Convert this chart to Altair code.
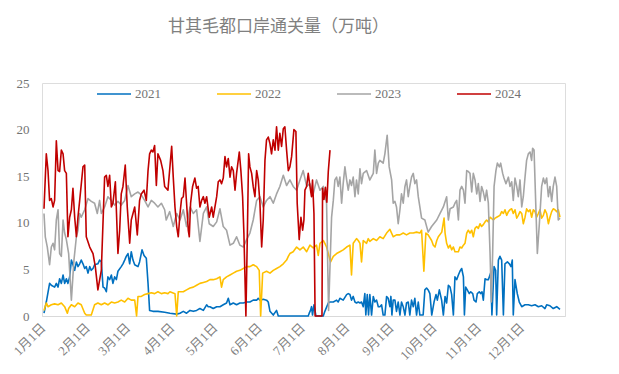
import altair as alt
import pandas as pd

years = ["2021", "2022", "2023", "2024"]
colors = ["#0070C0", "#FFC000", "#A5A5A5", "#C00000"]
widths = [1.6, 1.6, 1.6, 2.6]
month_days = [0, 31, 59, 90, 120, 151, 181, 212, 243, 273, 304, 334]
month_labels = ["1月1日", "2月1日", "3月1日", "4月1日", "5月1日", "6月1日",
                "7月1日", "8月1日", "9月1日", "10月1日", "11月1日", "12月1日"]
y_ticks = [0, 5, 10, 15, 20, 25]
title_text = "甘其毛都口岸通关量（万吨）"

# 2021 (day of year, 万吨)
d2021 = [1.4, 3, 5.3, 6.5, 8.8, 10, 11.2, 12.3, 13.5, 14.7, 15.8, 17, 18.1, 19.3, 20.5, 21.6, 22.8, 24, 25.1, 26.3,
         27.4, 28.6, 29.8, 30.9, 32.1, 33.3, 34.4, 35.6, 36.7, 39, 40.2, 41.4, 42.6, 43.7, 44.9, 46, 47.2, 48.4, 49.5,
         50.7, 51.9, 53, 55.3, 56.5, 57.7, 58.8, 60, 61.2, 62.3, 63.5, 64.7, 67, 68.1, 69.8, 71.2, 72.8, 74, 75.1,
         77.4, 80.9, 85.6, 89.3, 94, 96.3, 98.6, 100.9, 103.3, 105.6, 107.9, 110.2, 112.6, 114.9, 116, 117.2, 119.5,
         121.9, 124.2, 126.5, 128.8, 130, 131.2, 133.5, 135.8, 138.1, 140.5, 142.8, 145.1, 147.4, 149.8, 150.9, 152.1,
         154.4, 156.7, 157.9, 159.1, 161.4, 163.7, 164.9, 168.4, 175, 180, 185.8, 186.5, 187.4, 188.1, 188.8, 189.8,
         191.2, 196.3, 197.4, 199.8, 200.9, 203.3, 205.6, 206.7, 207.9, 210.2, 212.6, 213.7, 214.9, 216, 217.2,
         218.4, 219.5, 220.7, 221.9, 223, 224.2, 225.3, 226, 227, 227.9, 228.8, 230, 231.2, 232.3, 233.5, 234.7,
         235.8, 237, 238.1, 239.3, 240.5, 241.6, 242.8, 243.5, 244.2, 245.1, 246.3, 247.4, 248.6, 249.8, 250.9,
         252.1, 253.3, 254.4, 255.6, 256.7, 257.9, 259.1, 260.2, 261.4, 262.6, 263.7, 266, 267.2, 268.4, 269.5,
         270.7, 272, 273.6, 275, 275.9, 277.3, 278.9, 280.1, 281.3, 282.4, 283.6, 284.8, 285.9, 287.1, 288.2, 289.4,
         290.6, 291.7, 292.9, 294.1, 294.8, 295.7, 296.8, 298.2, 299.2, 300.6, 301.5, 302.9, 303.8, 305.2, 306.1,
         307.1, 308, 309.2, 310.3, 311.5, 313.1, 314, 315.5, 316.6, 317.3, 318.5, 319.6, 320.8, 322, 323.1, 324.8,
         326.2, 327.3, 328.2, 328.9, 330.1, 331.7, 333.1, 334.8, 337.1, 339.4, 341.7, 344.1, 346.4, 348.7, 351,
         352.2, 354.5, 356.8, 359.2, 361.5]
v2021 = [0.3, 1.5, 3.5, 3.3, 3.1, 3.5, 3.1, 4, 3.5, 4.4, 3.5, 4, 3.5, 4.2, 6, 5.5, 4.9, 5.8, 5.3, 5.6,
         6, 5.6, 5.1, 5.3, 4.6, 5.3, 4.9, 5.1, 5.5, 5.6, 6, 5.8, 3.1, 3, 2.6, 4.2, 3.9, 4.4, 3.5,
         4.2, 3.9, 4.8, 5.3, 5.6, 6, 6.4, 6.7, 5.6, 6.9, 6, 5.5, 5.3, 5.8, 7.1, 6.5, 6.2, 3.5, 0.6,
         0.5, 0.5, 0.4, 0.3, 0.2, 0.3, 0.5, 0.3, 0.6, 0.5, 0.6, 0.8, 0.6, 1.2, 1, 1, 0.8,
         1, 1, 1.2, 1.4, 1.9, 1.2, 1.4, 1.2, 1.4, 1.4, 1.5, 1.5, 1.7, 1.7, 1.9, 1.7,
         1.8, 1.7, 1.5, 0.5, 0.1, 0.6, 0, 0, 0, 0, 0, 0.3, 0.6, 1, 0.1, 1.2,
         0, 0, 0.5, 1.4, 1.5, 1.5, 1.7, 1.5, 1.9, 1.7, 2.3, 2.4, 2.3, 1.7, 2.1,
         1.5, 1.4, 1.5, 1.4, 1.5, 1, 2.4, 0.1, 2.3, 0.1, 2.3, 0.1, 2.1, 1.5, 1.7, 1,
         1, 1.2, 0.1, 0.1, 2.1, 1.9, 1, 2.1, 0.1, 1.7, 1.7, 0.5, 1.5, 0.1, 1.5,
         1, 0.1, 1.4, 1.5, 0.1, 1.7, 1, 1.9, 0.1, 1.5, 0.1, 0.1, 2.8, 3, 2.8,
         2.4, 0.1, 1.5, 2.3, 1.7, 2.8, 1.7, 0.1, 2.1, 1.4, 3.3, 3.1, 2.3, 0.1, 4.2, 3.9,
         4.4, 4.8, 5.1, 4.2, 0.1, 3.1, 2.8, 2.4, 2.6, 2.4, 1.7, 1.5, 2.4, 2.6, 2.4,
         2.6, 1.7, 4, 3.9, 3.9, 4.6, 0.1, 5.3, 4.9, 0.1, 6, 6.4, 6, 0.1, 5.6, 5.8,
         5.6, 5.3, 6, 0.1, 3.9, 2.4, 1.5, 1, 1.2, 1.2, 1.1, 1.2, 1, 1.1, 0.8,
         1.2, 1.1, 0.8, 1, 0.7]

# 2022
d2022 = [1.4, 3, 4.2, 6.5, 8.8, 11.2, 13.5, 15.8, 17.7, 18.6, 20.5, 22.8, 25.1, 27.4, 29.8, 30.9, 34.4, 36.7, 39,
         41.4, 43.7, 46, 48.4, 50.7, 53, 55.3, 57.7, 60, 62.3, 64.7, 66, 67, 69.3, 71.6, 74, 76.3, 78.6, 80.9, 83.3,
         85.6, 87.9, 89.3, 92.8, 94, 95.1, 98.6, 100.9, 103.3, 105.6, 107.9, 110.2, 112.6, 114.9, 117.2, 119.5,
         121.9, 124.2, 125.3, 126.5, 128.8, 131.2, 133.5, 135.8, 138.1, 140.5, 142.8, 145.1, 147.4, 149.8, 151.6,
         152.6, 154, 156.7, 159.1, 161.4, 163.7, 166, 168.4, 170.7, 171.9, 173, 175.3, 177.7, 180, 182.3, 184.7,
         187, 189.3, 191.6, 192.8, 194, 196.3, 197.4, 198.6, 199.8, 201.4, 203.3, 205.6, 207.9, 210.2, 212.6,
         214.9, 216, 217.2, 219.5, 220.7, 221.9, 223, 224.2, 226.5, 227.7, 228.8, 231.2, 233.5, 235.8, 238.1,
         240.5, 242.8, 245.1, 247.4, 249.8, 252.1, 254.4, 256.7, 259.1, 261.4, 263.7, 264.9, 266.5, 267.9, 269.5,
         271.9, 273.1, 274.3, 275.5, 276.6, 279, 280.6, 281.3, 282.4, 283.6, 284.8, 285.9, 287.1, 288.2, 290.6,
         291.7, 292.9, 294.1, 295.2, 296.4, 297.5, 298.7, 299.9, 301, 302.2, 303.4, 304.5, 305.7, 306.8, 308,
         309.2, 310.3, 311.5, 312.7, 315, 316.2, 317.3, 319.6, 320.8, 322, 323.1, 324.3, 325.5, 326.6, 327.8,
         328.9, 330.1, 331.3, 332.4, 333.6, 334.8, 335.9, 337.1, 338.2, 339.4, 340.6, 341.7, 342.9, 344.1, 345.2,
         346.4, 347.5, 348.7, 349.9, 351, 352.2, 353.4, 354.5, 355.7, 356.8, 358, 359.2, 360.3, 361.5]
v2022 = [0.6, 1.4, 1, 1.2, 1.3, 1.2, 1.4, 1, 0.3, 0.8, 1.2, 1, 1.4, 1.2, 0.3, 0.1, 0.1, 1.2, 1.4,
         1.2, 1.4, 1.2, 1.5, 1.4, 1.5, 1.7, 1.5, 1.9, 1.7, 1.7, 0, 2.1, 2.1, 2.3, 2.4, 2.5, 2.4, 2.6, 2.4,
         2.5, 2.4, 2.6, 2.4, 0, 2.6, 2.6, 2.8, 3, 3.1, 3.3, 3.5, 3.6, 3.7, 3.9, 3.9,
         4, 4.2, 3.1, 3.9, 4.2, 4.4, 4.6, 4.8, 4.9, 5.1, 5.3, 5.3, 5.5, 5.3, 4.9,
         0, 4.6, 4.8, 4.6, 4.9, 5.1, 5.3, 5.6, 6, 6.4, 6.7, 6.9, 7.4, 7.1, 7.4, 6.9,
         7.6, 7.3, 7.6, 6.5, 7.8, 8.1, 7.8, 7.4, 6.7, 5.8, 6.4, 6.7, 6.9, 7.1, 7.4,
         7.6, 4.4, 7.8, 8.3, 8.1, 7.8, 5.8, 8.1, 7.8, 8.3, 8, 8.3, 8.1, 8.5, 8.3,
         8.9, 9.3, 8.5, 8.7, 8.7, 8.9, 8.7, 8.9, 8.9, 9, 8.9, 9.2, 4.8, 8.9, 8.7,
         8.1, 7.6, 7.4, 8.1, 8.5, 9, 10.5, 8.9, 7.8, 7.3, 7.6, 7.1, 7.4, 6.9, 6.9,
         7.4, 7.3, 7.6, 7.8, 8.9, 9.2, 8.9, 9.2, 8.5, 9.4, 9.6, 9.4, 9.9, 9.6, 9.8,
         10.1, 10.3, 10.1, 10.6, 10.3, 10.5, 10.6, 10.8, 11.2, 11, 11.4, 10.8, 11.2, 11.4, 11.5,
         11, 11.4, 10.5, 10.8, 11.2, 11, 9.9, 10.6, 11.5, 11.2, 11.4, 10.6, 11.4, 11.2, 10.6,
         11, 11.4, 10.5, 10.8, 11.4, 11, 9.9, 10.6, 11.2, 11.5, 11.4, 11.2, 11.4, 10.6]

# 2023
d2023 = [1.4, 2.3, 3.7, 5.3, 6.5, 7.7, 8.8, 10, 11.2, 12.3, 13.5, 14.7, 15.8, 17, 18.6, 20.5, 22.3, 24, 25.1, 26.3,
         27.4, 29.8, 32.1, 34.4, 36.7, 38.6, 40.2, 41.4, 43.7, 46, 48.4, 50.7, 53, 55.3, 57.7, 60, 62.3, 64.7, 67,
         69.3, 71.6, 74, 76.3, 78.6, 80.9, 83.3, 85.6, 86.7, 89.1, 91.6, 94, 96.3, 98.6, 100.9, 103.3, 105.6, 107.9,
         110.2, 112.6, 114.9, 116.7, 119.5, 121.9, 124.2, 126.5, 128.8, 131.2, 133.5, 135.8, 138.1, 140.5, 142.8,
         145.1, 147.4, 149.8, 152.1, 154.4, 156.7, 159.1, 161.4, 163.7, 166, 168.4, 170.7, 173, 175.3, 177.7, 180,
         182.3, 184.7, 187, 189.3, 191.6, 194, 196.3, 198.6, 200, 202.1, 203.3, 204.4, 205.6, 206.7, 207.9, 209.1,
         210.2, 211.4, 212.6, 213.7, 214.9, 216, 217.2, 218.4, 219.5, 220.7, 221.9, 223, 224.2, 226.5, 228.8,
         231.2, 232.3, 233.5, 234.7, 235.8, 238.1, 239.3, 240.9, 242.3, 244, 245.1, 246.3, 247.4, 248.6, 249.8,
         250.9, 252.1, 253.3, 254.4, 255.6, 256.7, 257.9, 259.1, 260.2, 261.4, 262.6, 263.7, 264.9, 267.2, 269.5,
         271.9, 275.5, 277.8, 280.1, 282.4, 283.6, 284.8, 287.1, 288.2, 289.4, 290.6, 291.7, 292.9, 294.1, 295.2,
         296.4, 297.5, 298.7, 299.9, 301, 302.2, 303.4, 304.5, 305.7, 306.8, 308, 309.2, 310.3, 311.5, 312.7,
         313.6, 314.5, 315.5, 316.8, 317.8, 319.2, 320.1, 321.5, 322.4, 323.8, 325.5, 326.6, 327.8, 328.9, 330.1,
         331.3, 332.4, 333.6, 334.8, 335.9, 337.1, 338.2, 339.4, 340.6, 341.7, 342.4, 343.4, 344.8, 345.7, 347.1,
         348.7, 349.9, 351, 352.2, 353.4, 354.5, 355.7, 356.8, 358, 359.2, 360.3, 361.5]
v2023 = [11, 8.5, 7.4, 5.5, 7.4, 7.8, 7.1, 10.3, 11.4, 6.7, 6.4, 10.3, 8.9, 8.2, 6.7, 1.7, 6, 8.5, 9.2, 11,
         10.6, 11.4, 12.6, 12.3, 12.1, 11, 12.4, 11, 11.7, 12.8, 12.4, 11.9, 12.3, 11.9, 12.4, 14, 12.8, 13.1, 13.3,
         13, 12.4, 11.7, 12.4, 12.1, 11.7, 12.1, 11.4, 10.3, 11.2, 9.6, 11, 10.3, 11.4, 9.6, 11.7, 11, 11.4,
         8, 11, 11.7, 9.9, 9.6, 10.1, 11.5, 9.6, 9.2, 7.6, 7.8, 8.5, 7.6, 7.4, 8.2,
         8.9, 10.3, 12.4, 12.8, 11.7, 12.4, 12.8, 12.1, 13.1, 13.9, 15.1, 14, 14.6, 13.9, 13.5, 14.6,
         15.6, 13.9, 14.2, 13.1, 14.6, 13.5, 13.9, 12.1, 0.6, 10.6, 12.4, 14.6, 14.9, 13.9, 14.9, 12.1,
         14.2, 16, 14.6, 13.5, 14.6, 14, 14.9, 12.8, 14.6, 13.1, 15.8, 14.2, 15.3, 15.6, 14.6,
         15.3, 17.8, 15.3, 16.4, 16.7, 16.4, 17.4, 19.4, 16, 14.6, 12.1, 12.3, 11.7, 9.9, 11.4,
         13.1, 12.1, 13.9, 14.6, 12.8, 13.9, 14.9, 15.3, 14.2, 14.6, 12.8, 11.7, 10.5, 10.3, 9,
         9.6, 10.3, 11, 11.7, 12.8, 10.3, 11.5, 11.7, 12.1, 12.4, 10.3, 13.5, 13.9, 13.5, 12.1,
         15.6, 15.5, 15.3, 13.3, 15.3, 14.6, 13.1, 14.2, 12.3, 13.9, 13.3, 12.4, 13.5, 12.1, 6.7,
         1.5, 6.7, 13.9, 15.6, 16.4, 16, 16.4, 15.3, 14.8, 14.2, 14.9, 13.9, 14.4, 12.4, 14.8,
         13.9, 12.8, 14.6, 11.7, 12.8, 14.9, 16.7, 17.4, 17.6, 16.7, 18, 17.8, 11, 6.7, 9.9,
         13.9, 14.8, 14.2, 14.8, 12.8, 13.9, 12.3, 13.9, 14.9, 13.9, 10.3, 10.5]

# 2024
d2024 = [1.4, 3, 4.2, 5.3, 6.5, 7.7, 8.8, 10, 11.2, 12.3, 13.5, 14.7, 15.8, 17, 18.1, 19.3, 20.5, 21.6, 22.8, 24,
         25.1, 26.3, 28.6, 29.8, 30.9, 33.3, 35.6, 37.2, 39, 41.4, 43.7, 44.9, 46, 47.2, 48.4, 49.5, 51.2, 53, 54.2,
         55.3, 56.5, 58.1, 59.5, 61.2, 62.3, 64.7, 66.5, 68.1, 69.3, 71.2, 72.8, 74, 75.1, 76.3, 77.4, 78.6, 79.8,
         80.9, 82.8, 84.4, 85.6, 87.9, 90.5, 91.6, 92.8, 94, 95.1, 96.3, 97.4, 98.6, 99.8, 100.9, 102.1, 102.8,
         103.7, 105.1, 106.7, 107.9, 109, 110.2, 111.4, 112.6, 113.7, 114.9, 116.7, 118.4, 119.5, 120.7, 121.9,
         123, 124.2, 125.3, 126.5, 127.7, 128.8, 130, 131.2, 132.3, 133.5, 134.7, 135.8, 137.7, 138.8, 140, 140.9,
         142.3, 143.3, 144.2, 145.1, 146.3, 147.4, 148.6, 149.8, 150.9, 152.1, 153.3, 154.4, 155.6, 156.7, 157.9,
         159.1, 160.2, 161.4, 162.6, 163.7, 164.9, 166, 167.2, 168.4, 169.5, 170.7, 171.9, 173, 174.2, 175.8,
         177.2, 178.1, 179.5, 180.7, 181.9, 182.8, 183.5, 184.7, 185.8, 187, 188.1, 188.8, 189.8, 190.6, 192, 194,
         195.4, 195.8, 196.8, 197.8, 198.8, 199.8, 201]
v2024 = [11.5, 17.4, 15.6, 12.4, 12.6, 11.7, 12.4, 18.8, 15.6, 15.5, 17.8, 17.4, 15.6, 15.3, 8.5, 10.6, 11.4, 13.7, 10.6, 8.5,
         10.6, 12.4, 16, 16.2, 8.5, 7.4, 6.7, 5.3, 2.8, 4.9, 14.9, 15.1, 13.9, 15.1, 11.7, 12.1, 14.4, 6.7, 9.2,
         13.1, 13.9, 16.2, 11.7, 7.8, 10.3, 11.7, 8.7, 12.4, 13.1, 13.5, 12.4, 15.6, 17.4, 17.8, 17.6, 18.3, 14,
         17.4, 16.7, 15.6, 13.9, 13.5, 18.2, 14.9, 11.7, 9.6, 8.5, 11, 12.6, 12.8, 14.8, 12.1, 9.2, 8.5,
         12.1, 13.9, 14.8, 13.7, 13.9, 11.7, 12.4, 12.8, 12.1, 12.8, 10.6, 11.7, 10.6, 11.7, 12.8,
         14.4, 14.6, 14.2, 14.8, 17.1, 16, 16.9, 14.9, 16, 15.6, 13.5, 15.3, 17.6, 15.6, 12.8, 8.9,
         0, 8.5, 17.4, 16, 15.3, 13.9, 12.8, 15.6, 14.6, 12.1, 7.4, 10.3, 16.7, 18.9, 19.2,
         18.5, 17.4, 18.9, 17.8, 20.3, 17.8, 19.6, 18.2, 20.1, 20.3, 17.8, 15.6, 16, 17.1, 20,
         19.8, 12.1, 8.2, 10.6, 9.2, 10.3, 13.5, 13.9, 15.3, 13.9, 12.8, 14.6, 11, 0, 0, 0,
         0, 13.7, 12.5, 13.8, 12.2, 15.5, 17.8]

rows = []
for yr, ds, vs in zip(years, [d2021, d2022, d2023, d2024], [v2021, v2022, v2023, v2024]):
    for d, v in zip(ds, vs):
        rows.append({"day": d, "value": v, "year": yr})
df = pd.DataFrame(rows)

label_expr = ("[" + ",".join("'" + s + "'" for s in month_labels) + "][indexof(["
              + ",".join(str(d) for d in month_days) + "], datum.value)]")

font_mix = "Liberation Serif, Noto Sans CJK SC"
gray_text = "#737373"

chart = alt.Chart(df).mark_line(strokeJoin="round").encode(
    x=alt.X("day:Q",
            scale=alt.Scale(domain=[0, 365], nice=False, zero=False),
            axis=alt.Axis(values=month_days, labelExpr=label_expr, labelAngle=-45,
                          labelFont=font_mix, labelFontSize=13, labelColor="#7F7F7F",
                          ticks=False, grid=False, domainColor="#D9D9D9", domainWidth=1,
                          labelOverlap=False, labelBound=False, labelFlush=False,
                          labelPadding=5, labelOffset=-3, title=None)),
    y=alt.Y("value:Q",
            scale=alt.Scale(domain=[0, 25], nice=False),
            axis=alt.Axis(values=y_ticks, domain=False, ticks=False, grid=False,
                          labelFont="Liberation Serif", labelFontSize=13, labelColor=gray_text,
                          labelPadding=13, title=None)),
    color=alt.Color("year:N",
                    scale=alt.Scale(domain=years, range=colors),
                    legend=alt.Legend(orient="none", legendX=54, legendY=-7, direction="horizontal",
                                      columns=4, symbolType="stroke", symbolSize=1156,
                                      symbolStrokeWidth=2, labelFont="Liberation Serif",
                                      labelFontSize=13, labelColor=gray_text, title=None,
                                      columnPadding=52, labelOffset=3, padding=0)),
    strokeWidth=alt.StrokeWidth("year:N",
                                scale=alt.Scale(domain=years, range=widths),
                                legend=None),
).properties(
    width=523,
    height=233,
    autosize=alt.AutoSizeParams(type="none"),
    padding={"left": 34, "top": 75, "right": 46, "bottom": 50},
    title=alt.TitleParams(title_text, font="Noto Sans CJK SC", fontSize=17, fontWeight="normal",
                          color="#808080", anchor="middle", dx=-25, offset=40, frame="group"),
).configure_view(stroke=None).configure(background="white")

chart.save("out.html", embed_options={"renderer": "svg", "actions": False})
